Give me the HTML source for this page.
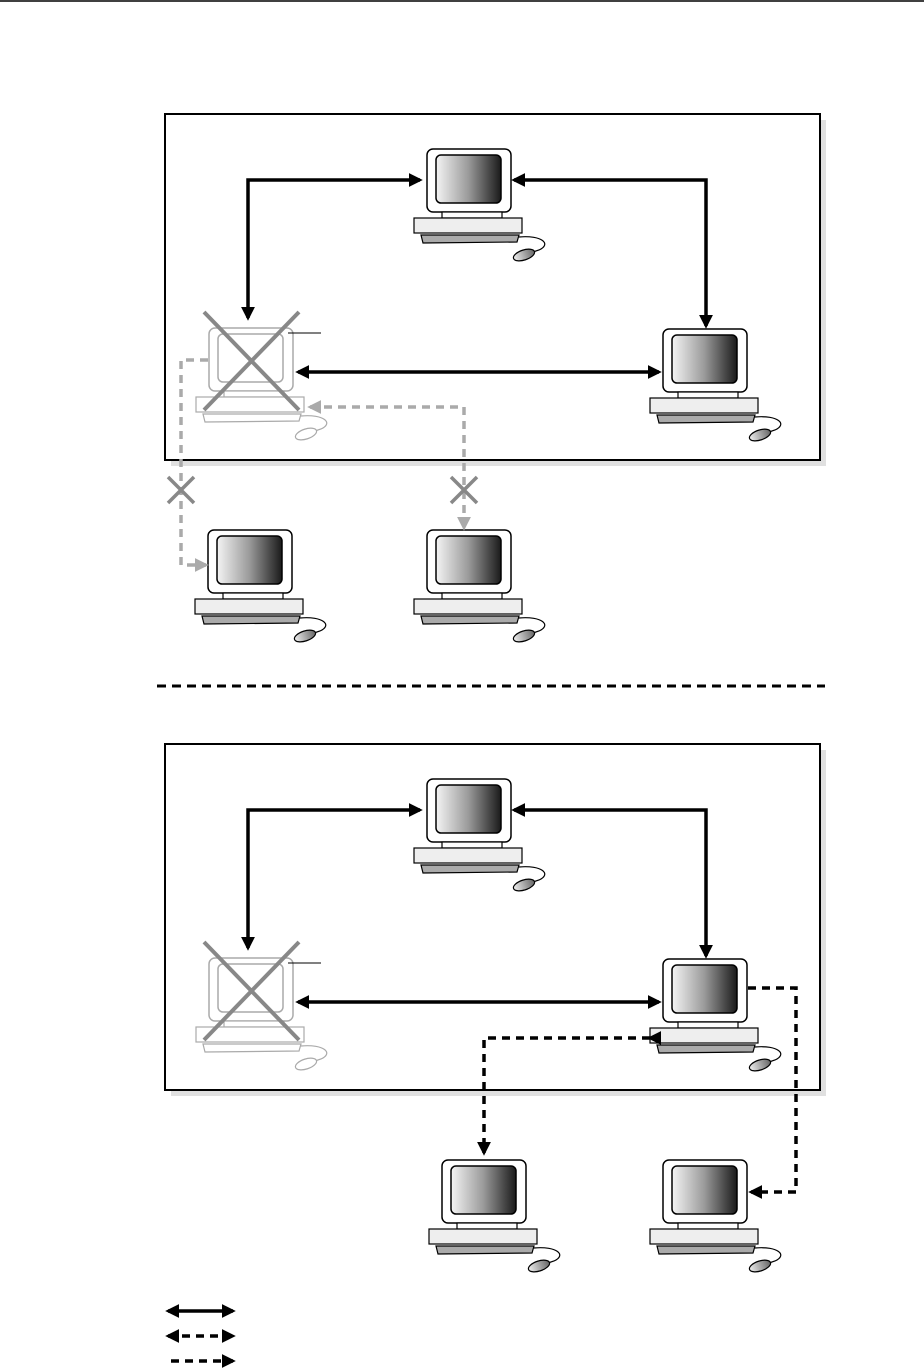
<!DOCTYPE html>
<html><head><meta charset="utf-8"><style>
html,body{margin:0;padding:0;background:#fff;}
svg{display:block;}
</style></head><body>
<svg width="924" height="1370" viewBox="0 0 924 1370" xmlns="http://www.w3.org/2000/svg">
<defs>
<linearGradient id="scr" x1="0" x2="1" y1="0" y2="0">
<stop offset="0" stop-color="#f4f4f4"/><stop offset="0.5" stop-color="#9a9a9a"/><stop offset="1" stop-color="#1a1a1a"/>
</linearGradient>
<linearGradient id="ms" x1="0" x2="1"><stop offset="0" stop-color="#eee"/><stop offset="1" stop-color="#666"/></linearGradient>
<g id="pc">
<path d="M92,88 C115,86 125,95 112,101 L106,103" fill="none" stroke="#000" stroke-width="1.2"/>
<rect x="0" y="0" width="84" height="63" rx="6" fill="#fff" stroke="#000" stroke-width="1.5"/>
<rect x="9" y="6" width="65" height="48" rx="5" fill="url(#scr)" stroke="#000" stroke-width="1.5"/>
<rect x="15" y="63" width="60" height="6" fill="#fff" stroke="#000" stroke-width="1.2"/>
<rect x="-13" y="69" width="108" height="15" fill="#eee" stroke="#000" stroke-width="1.2"/>
<path d="M-6,86 L92,86 L90,93 L-4,94 Z" fill="#aaa" stroke="#000" stroke-width="1.2"/>
<ellipse cx="97" cy="106" rx="11" ry="5" transform="rotate(-18 97 106)" fill="url(#ms)" stroke="#000" stroke-width="1.2"/>
</g>
<g id="pcg" stroke="#aaa" fill="#fff">
<path d="M92,88 C115,86 125,95 112,101 L106,103" fill="none" stroke-width="1.2"/>
<rect x="0" y="0" width="84" height="63" rx="6" stroke-width="1.5"/>
<rect x="9" y="6" width="65" height="48" rx="5" stroke-width="1.5"/>
<rect x="15" y="63" width="60" height="6" stroke-width="1.2"/>
<rect x="-13" y="69" width="108" height="15" stroke-width="1.2"/>
<path d="M-6,86 L92,86 L90,93 L-4,94 Z" stroke-width="1.2"/>
<ellipse cx="97" cy="106" rx="11" ry="5" transform="rotate(-18 97 106)" stroke-width="1.2"/>
</g>
<marker id="ab" markerWidth="4" markerHeight="4" refX="3.2" refY="2" orient="auto" markerUnits="strokeWidth"><path d="M0,0 L4,2 L0,4 Z" fill="#000"/></marker>
<marker id="abs" markerWidth="4" markerHeight="4" refX="0.8" refY="2" orient="auto" markerUnits="strokeWidth"><path d="M4,0 L0,2 L4,4 Z" fill="#000"/></marker>
<marker id="ag" markerWidth="4" markerHeight="4" refX="3.2" refY="2" orient="auto" markerUnits="strokeWidth"><path d="M0,0 L4,2 L0,4 Z" fill="#aaa"/></marker>
<marker id="ags" markerWidth="4" markerHeight="4" refX="0.8" refY="2" orient="auto" markerUnits="strokeWidth"><path d="M4,0 L0,2 L4,4 Z" fill="#aaa"/></marker>
</defs>
<line x1="0" y1="1" x2="924" y2="1" stroke="#000" stroke-width="1.5"/>

<!-- Box 1 -->
<rect x="171" y="120" width="655" height="346" fill="#e0e0e0"/>
<rect x="165" y="114" width="655" height="346" fill="#fff" stroke="#000" stroke-width="2"/>
<use href="#pc" x="427" y="149"/>
<use href="#pc" x="663" y="329"/>
<use href="#pcg" x="209" y="328"/>
<use href="#pc" x="208" y="530"/>
<use href="#pc" x="427" y="530"/>
<line x1="204" y1="312" x2="299" y2="410" stroke="#888" stroke-width="4"/>
<line x1="299" y1="312" x2="204" y2="410" stroke="#888" stroke-width="4"/>
<line x1="288" y1="333" x2="321" y2="333" stroke="#000" stroke-width="1"/>
<path d="M420,180 L248,180 L248,318" fill="none" stroke="#000" stroke-width="3.5" marker-start="url(#abs)" marker-end="url(#ab)"/>
<path d="M514,180 L706,180 L706,326" fill="none" stroke="#000" stroke-width="3.5" marker-start="url(#abs)" marker-end="url(#ab)"/>
<line x1="298" y1="372" x2="659" y2="372" stroke="#000" stroke-width="3.5" marker-start="url(#abs)" marker-end="url(#ab)"/>
<path d="M208,360 L181,360 L181,565 L206,565" fill="none" stroke="#aaa" stroke-width="3.5" stroke-dasharray="8,6" marker-end="url(#ag)"/>
<path d="M310,407 L464,407 L464,528" fill="none" stroke="#aaa" stroke-width="3.5" stroke-dasharray="8,6" marker-start="url(#ags)" marker-end="url(#ag)"/>
<g stroke="#888" stroke-width="3.5">
<line x1="168" y1="477" x2="194" y2="503"/><line x1="194" y1="477" x2="168" y2="503"/>
<line x1="451" y1="477" x2="477" y2="503"/><line x1="477" y1="477" x2="451" y2="503"/>
</g>

<line x1="157" y1="686" x2="825" y2="686" stroke="#000" stroke-width="3" stroke-dasharray="9,6"/>

<!-- Box 2 -->
<rect x="171" y="750" width="655" height="346" fill="#e0e0e0"/>
<rect x="165" y="744" width="655" height="346" fill="#fff" stroke="#000" stroke-width="2"/>
<use href="#pc" x="427" y="779"/>
<use href="#pc" x="663" y="959"/>
<use href="#pcg" x="209" y="958"/>
<use href="#pc" x="442" y="1160"/>
<use href="#pc" x="663" y="1160"/>
<line x1="204" y1="942" x2="299" y2="1040" stroke="#888" stroke-width="4"/>
<line x1="299" y1="942" x2="204" y2="1040" stroke="#888" stroke-width="4"/>
<line x1="288" y1="963" x2="321" y2="963" stroke="#000" stroke-width="1"/>
<path d="M420,810 L248,810 L248,948" fill="none" stroke="#000" stroke-width="3.5" marker-start="url(#abs)" marker-end="url(#ab)"/>
<path d="M514,810 L706,810 L706,956" fill="none" stroke="#000" stroke-width="3.5" marker-start="url(#abs)" marker-end="url(#ab)"/>
<line x1="298" y1="1002" x2="659" y2="1002" stroke="#000" stroke-width="3.5" marker-start="url(#abs)" marker-end="url(#ab)"/>
<path d="M650,1038 L484,1038 L484,1153" fill="none" stroke="#000" stroke-width="3.5" stroke-dasharray="8,6" marker-start="url(#ab)" marker-end="url(#ab)"/>
<path d="M748,988 L796,988 L796,1192 L751,1192" fill="none" stroke="#000" stroke-width="3.5" stroke-dasharray="8,6" marker-end="url(#ab)"/>

<!-- Legend -->
<line x1="168" y1="1311" x2="233" y2="1311" stroke="#000" stroke-width="3.5" marker-start="url(#abs)" marker-end="url(#ab)"/>
<line x1="168" y1="1336" x2="233" y2="1336" stroke="#000" stroke-width="3.5" stroke-dasharray="8,6" marker-start="url(#abs)" marker-end="url(#ab)"/>
<line x1="171" y1="1361" x2="233" y2="1361" stroke="#000" stroke-width="3.5" stroke-dasharray="8,6" marker-end="url(#ab)"/>
</svg>
</body></html>
